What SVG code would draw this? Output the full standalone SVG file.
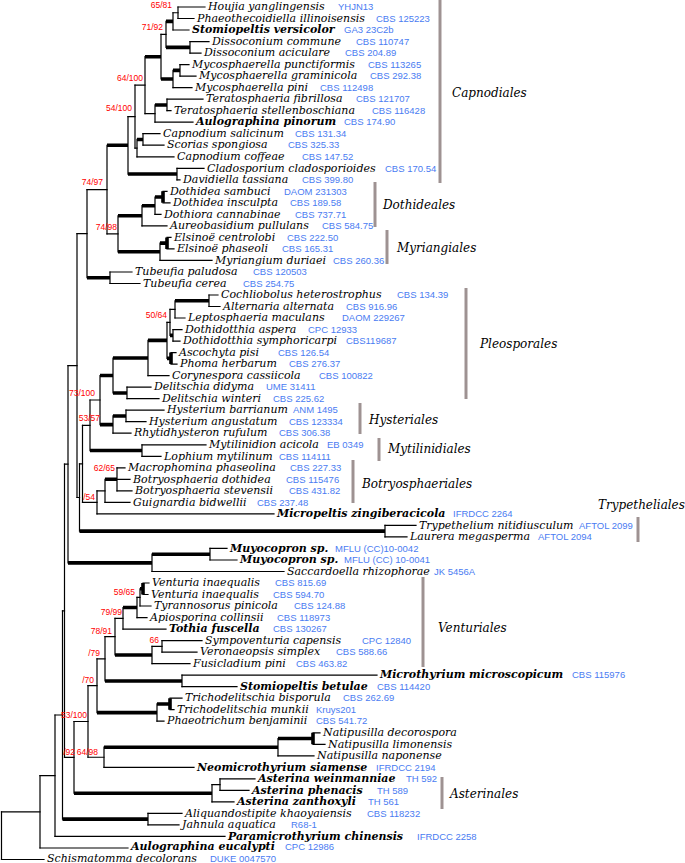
<svg xmlns="http://www.w3.org/2000/svg" width="685" height="863" viewBox="0 0 685 863">
<style>
.bg{fill:#fff}
.t{fill:none;stroke:#000;stroke-width:1.2;stroke-linecap:square}
.k{fill:none;stroke:#000;stroke-width:3.6;stroke-linecap:butt}
.sp{font-family:"DejaVu Serif",serif;font-style:italic;font-size:11px;fill:#000}
.b{font-weight:bold}
.c{font-family:"Liberation Sans",Arial,sans-serif;font-size:9.5px;fill:#4a7cf2}
.bs{font-family:"Liberation Sans",Arial,sans-serif;font-size:8.5px;fill:#f00;text-anchor:end}
.ord{font-family:"DejaVu Serif",serif;font-style:italic;font-size:12px;fill:#000}
.bar{stroke:#9e9292;stroke-width:3;fill:none}
</style>
<rect class="bg" width="685" height="863"/>
<g id="connectors">
<path class="t" d="M178 7V18.5M173 12.75V30M190 41.6V53.1M166 21.4V47.35M180 64.6V76.1M173 70.35V87.6M161 34.4V79M167 99.2V110.7M155 104.95V122.2M145 56.7V113.6M143 133.7V145.2M137 139.45V156.8M135 85.15V148.1M177 168.3V179.8M128 116.6V174.05M155 197.05V214.4M142 205.7V225.9M160 243.15V260.4M118 215.8V251.8M107 145.3V233.8M110 272V283.5M87 189.55V277.75M209 295V306.5M175 300.75V318M173 329.6V341.1M170 309.4V335.35M167 322.4V358.35M148 340.4V375.6M127 387.2V398.7M113 358V392.95M126 410.2V421.7M113 415.95V433.2M100 375.5V424.6M142 444.8V456.3M90 400V450.55M117 467.8V490.8M105 479.3V502.4M97 490.85V513.9M82.5 425.3V502.4M385 525.4V536.9M79.5 463.85V531.15M77 233.65V497.5M210 548.4V560M152 554.2V571.5M68 365.6V562.85M140 588.75V606M137 597.4V617.6M123 607.5V629.1M162 640.6V652.1M152 646.35V663.6M115 618.3V655M182 675.2V686.7M105 636.65V680.95M157 703.95V721.2M97 658.8V712.6M278 738.55V755.8M104 747.2V767.3M88 685.7V757.25M220 778.8V790.4M212 784.6V801.9M74 721.5V793.25M64.5 464.2V757.4M148 813.4V824.9M62.5 610.8V819.15M55 715V836.4M40 775.7V848M1.5 811.85V859.5"/>
<path class="t" d="M178 7H205M178 18.5H194M173 30H189M190 41.6H209M190 53.1H201M180 64.6H189M180 76.1H196M173 87.6H192M167 99.2H203M167 110.7H171M155 122.2H193M143 133.7H160M143 145.2H164M137 156.8H174M177 168.3H204M177 179.8H180M163 191.3H167M163 202.8H170M155 214.4H161M142 225.9H167M167 237.4H171M167 248.9H174M160 260.4H212M110 272H132M110 283.5H140M209 295H218M209 306.5H220M175 318H185M173 329.6H182M173 341.1H180M171 352.6H176M171 364.1H177M148 375.6H169M127 387.2H151M127 398.7H159M126 410.2H164M126 421.7H146M113 433.2H131M142 444.8H206M142 456.3H161M117 467.8H125M117 479.3H130M117 490.8H132M105 502.4H130M97 513.9H274M385 525.4H416M385 536.9H407M210 548.4H227M210 560H237M152 571.5H284M143 583H149M143 594.5H148M140 606H151M137 617.6H147M123 629.1H166M162 640.6H202M162 652.1H197M152 663.6H190M182 675.2H377M182 686.7H237M170 698.2H182M170 709.7H174M157 721.2H164M313 732.8H320M313 744.3H325M278 755.8H314M104 767.3H194M220 778.8H255M220 790.4H249M212 801.9H234M148 813.4H182M148 824.9H179M55 836.4H225M40 848H128M1.5 859.5H44"/>
<path class="t" d="M173 12.75H178M161 34.4H166M145 113.6H155M135 85.15H145M135 148.1H137M128 116.6H135M107 233.8H118M87 189.55H107M77 233.65H87M170 309.4H175M167 322.4H170M90 400H100M82.5 425.3H90M97 490.85H105M82.5 502.4H97M79.5 463.85H82.5M77 497.5H79.5M68 365.6H77M64.5 464.2H68M137 597.4H140M115 618.3H123M152 646.35H162M105 636.65H115M97 658.8H105M88 685.7H97M88 757.25H104M74 721.5H88M212 784.6H220M64.5 757.4H74M62.5 610.8H64.5M55 715H62.5M40 775.7H55M1.5 811.85H40"/>
<path class="k" d="M166 21.4H173M166 47.35H190M173 70.35H180M161 79H173M145 56.7H161M155 104.95H167M137 139.45H143M128 174.05H177M107 145.3H128M155 197.05H163M142 205.7H155M118 215.8H142M160 243.15H167M118 251.8H160M87 277.75H110M175 300.75H209M170 335.35H173M167 358.35H171M148 340.4H167M113 358H148M113 392.95H127M100 375.5H113M113 415.95H126M100 424.6H113M90 450.55H142M105 479.3H117M79.5 531.15H385M152 554.2H210M68 562.85H152M140 588.75H143M123 607.5H137M115 655H152M105 680.95H182M157 703.95H170M97 712.6H157M278 738.55H313M104 747.2H278M74 793.25H212M62.5 819.15H148"/>
<path class="k" d="M163 191.3V202.8M167 237.4V248.9M171 352.6V364.1M143 583V594.5M170 698.2V709.7M313 732.8V744.3"/>
</g>
<g id="support">
<text class="bs" x="172" y="8">65/81</text>
<text class="bs" x="163" y="30">71/92</text>
<text class="bs" x="143" y="81">64/100</text>
<text class="bs" x="132" y="111">54/100</text>
<text class="bs" x="103" y="185">74/97</text>
<text class="bs" x="117" y="230">74/98</text>
<text class="bs" x="167" y="318">50/64</text>
<text class="bs" x="95" y="396">73/100</text>
<text class="bs" x="100" y="421">53/57</text>
<text class="bs" x="115" y="471">62/65</text>
<text class="bs" x="95" y="500">/54</text>
<text class="bs" x="135" y="595">59/65</text>
<text class="bs" x="122" y="615">79/99</text>
<text class="bs" x="112" y="634">78/91</text>
<text class="bs" x="159" y="643">66</text>
<text class="bs" x="100" y="656">/79</text>
<text class="bs" x="94" y="683">/70</text>
<text class="bs" x="87" y="718">53/100</text>
<text class="bs" x="75" y="755">/92</text>
<text class="bs" x="98" y="755">64/98</text>
</g>
<g id="t00"><text class="sp" x="208" y="10.2">Houjia yanglingensis</text><text class="c" x="338" y="10.2">YHJN13</text></g>
<g id="t01"><text class="sp" x="197" y="21.7">Phaeothecoidiella illinoisensis</text><text class="c" x="376" y="21.7">CBS 125223</text></g>
<g id="t02"><text class="sp b" x="192" y="33.2">Stomiopeltis versicolor</text><text class="c" x="344" y="33.2">GA3 23C2b</text></g>
<g id="t03"><text class="sp" x="212" y="44.8">Dissoconium commune</text><text class="c" x="356" y="44.8">CBS 110747</text></g>
<g id="t04"><text class="sp" x="204" y="56.3">Dissoconium aciculare</text><text class="c" x="345" y="56.3">CBS 204.89</text></g>
<g id="t05"><text class="sp" x="192" y="67.8">Mycosphaerella punctiformis</text><text class="c" x="368" y="67.8">CBS 113265</text></g>
<g id="t06"><text class="sp" x="199" y="79.3">Mycosphaerella graminicola</text><text class="c" x="370" y="79.3">CBS 292.38</text></g>
<g id="t07"><text class="sp" x="195" y="90.8">Mycosphaerella pini</text><text class="c" x="320" y="90.8">CBS 112498</text></g>
<g id="t08"><text class="sp" x="206" y="102.4">Teratosphaeria fibrillosa</text><text class="c" x="356" y="102.4">CBS 121707</text></g>
<g id="t09"><text class="sp" x="174" y="113.9">Teratosphaeria stellenboschiana</text><text class="c" x="372" y="113.9">CBS 116428</text></g>
<g id="t10"><text class="sp b" x="196" y="125.4">Aulographina pinorum</text><text class="c" x="344" y="125.4">CBS 174.90</text></g>
<g id="t11"><text class="sp" x="163" y="136.9">Capnodium salicinum</text><text class="c" x="295" y="136.9">CBS 131.34</text></g>
<g id="t12"><text class="sp" x="167" y="148.4">Scorias spongiosa</text><text class="c" x="288" y="148.4">CBS 325.33</text></g>
<g id="t13"><text class="sp" x="177" y="160">Capnodium coffeae</text><text class="c" x="302" y="160">CBS 147.52</text></g>
<g id="t14"><text class="sp" x="207" y="171.5">Cladosporium cladosporioides</text><text class="c" x="385" y="171.5">CBS 170.54</text></g>
<g id="t15"><text class="sp" x="183" y="183">Davidiella tassiana</text><text class="c" x="302" y="183">CBS 399.80</text></g>
<g id="t16"><text class="sp" x="170" y="194.5">Dothidea sambuci</text><text class="c" x="284" y="194.5">DAOM 231303</text></g>
<g id="t17"><text class="sp" x="173" y="206">Dothidea insculpta</text><text class="c" x="290" y="206">CBS 189.58</text></g>
<g id="t18"><text class="sp" x="164" y="217.6">Dothiora cannabinae</text><text class="c" x="295" y="217.6">CBS 737.71</text></g>
<g id="t19"><text class="sp" x="170" y="229.1">Aureobasidium pullulans</text><text class="c" x="322" y="229.1">CBS 584.75</text></g>
<g id="t20"><text class="sp" x="174" y="240.6">Elsinoë centrolobi</text><text class="c" x="287" y="240.6">CBS 222.50</text></g>
<g id="t21"><text class="sp" x="177" y="252.1">Elsinoë phaseoli</text><text class="c" x="282" y="252.1">CBS 165.31</text></g>
<g id="t22"><text class="sp" x="215" y="263.6">Myriangium duriaei</text><text class="c" x="333" y="263.6">CBS 260.36</text></g>
<g id="t23"><text class="sp" x="135" y="275.2">Tubeufia paludosa</text><text class="c" x="253" y="275.2">CBS 120503</text></g>
<g id="t24"><text class="sp" x="143" y="286.7">Tubeufia cerea</text><text class="c" x="243" y="286.7">CBS 254.75</text></g>
<g id="t25"><text class="sp" x="221" y="298.2">Cochliobolus heterostrophus</text><text class="c" x="397" y="298.2">CBS 134.39</text></g>
<g id="t26"><text class="sp" x="223" y="309.7">Alternaria alternata</text><text class="c" x="346" y="309.7">CBS 916.96</text></g>
<g id="t27"><text class="sp" x="188" y="321.2">Leptosphaeria maculans</text><text class="c" x="342" y="321.2">DAOM 229267</text></g>
<g id="t28"><text class="sp" x="185" y="332.8">Dothidotthia aspera</text><text class="c" x="308" y="332.8">CPC 12933</text></g>
<g id="t29"><text class="sp" x="183" y="344.3">Dothidotthia symphoricarpi</text><text class="c" x="346" y="344.3">CBS119687</text></g>
<g id="t30"><text class="sp" x="179" y="355.8">Ascochyta pisi</text><text class="c" x="278" y="355.8">CBS 126.54</text></g>
<g id="t31"><text class="sp" x="180" y="367.3">Phoma herbarum</text><text class="c" x="289" y="367.3">CBS 276.37</text></g>
<g id="t32"><text class="sp" x="172" y="378.8">Corynespora cassiicola</text><text class="c" x="319" y="378.8">CBS 100822</text></g>
<g id="t33"><text class="sp" x="154" y="390.4">Delitschia didyma</text><text class="c" x="266" y="390.4">UME 31411</text></g>
<g id="t34"><text class="sp" x="162" y="401.9">Delitschia winteri</text><text class="c" x="273" y="401.9">CBS 225.62</text></g>
<g id="t35"><text class="sp" x="167" y="413.4">Hysterium barrianum</text><text class="c" x="293" y="413.4">ANM 1495</text></g>
<g id="t36"><text class="sp" x="149" y="424.9">Hysterium angustatum</text><text class="c" x="289" y="424.9">CBS 123334</text></g>
<g id="t37"><text class="sp" x="134" y="436.4">Rhytidhysteron rufulum</text><text class="c" x="279" y="436.4">CBS 306.38</text></g>
<g id="t38"><text class="sp" x="209" y="448">Mytilinidion acicola</text><text class="c" x="327" y="448">EB 0349</text></g>
<g id="t39"><text class="sp" x="164" y="459.5">Lophium mytilinum</text><text class="c" x="279" y="459.5">CBS 114111</text></g>
<g id="t40"><text class="sp" x="128" y="471">Macrophomina phaseolina</text><text class="c" x="290" y="471">CBS 227.33</text></g>
<g id="t41"><text class="sp" x="133" y="482.5">Botryosphaeria dothidea</text><text class="c" x="286" y="482.5">CBS 115476</text></g>
<g id="t42"><text class="sp" x="135" y="494">Botryosphaeria stevensii</text><text class="c" x="289" y="494">CBS 431.82</text></g>
<g id="t43"><text class="sp" x="133" y="505.6">Guignardia bidwellii</text><text class="c" x="257" y="505.6">CBS 237.48</text></g>
<g id="t44"><text class="sp b" x="277" y="517.1">Micropeltis zingiberacicola</text><text class="c" x="453" y="517.1">IFRDCC 2264</text></g>
<g id="t45"><text class="sp" x="419" y="528.6">Trypethelium nitidiusculum</text><text class="c" x="579" y="528.6">AFTOL 2099</text></g>
<g id="t46"><text class="sp" x="410" y="540.1">Laurera megasperma</text><text class="c" x="538" y="540.1">AFTOL 2094</text></g>
<g id="t47"><text class="sp b" x="230" y="551.6">Muyocopron sp.</text><text class="c" x="335" y="551.6">MFLU (CC)10-0042</text></g>
<g id="t48"><text class="sp b" x="240" y="563.2">Muyocopron sp.</text><text class="c" x="344" y="563.2">MFLU (CC) 10-0041</text></g>
<g id="t49"><text class="sp" x="287" y="574.7">Saccardoella rhizophorae</text><text class="c" x="434" y="574.7">JK 5456A</text></g>
<g id="t50"><text class="sp" x="152" y="586.2">Venturia inaequalis</text><text class="c" x="275" y="586.2">CBS 815.69</text></g>
<g id="t51"><text class="sp" x="151" y="597.7">Venturia inaequalis</text><text class="c" x="273" y="597.7">CBS 594.70</text></g>
<g id="t52"><text class="sp" x="154" y="609.2">Tyrannosorus pinicola</text><text class="c" x="294" y="609.2">CBS 124.88</text></g>
<g id="t53"><text class="sp" x="150" y="620.8">Apiosporina collinsii</text><text class="c" x="277" y="620.8">CBS 118973</text></g>
<g id="t54"><text class="sp b" x="169" y="632.3">Tothia fuscella</text><text class="c" x="273" y="632.3">CBS 130267</text></g>
<g id="t55"><text class="sp" x="205" y="643.8">Sympoventuria capensis</text><text class="c" x="362" y="643.8">CPC 12840</text></g>
<g id="t56"><text class="sp" x="200" y="655.3">Veronaeopsis simplex</text><text class="c" x="336" y="655.3">CBS 588.66</text></g>
<g id="t57"><text class="sp" x="193" y="666.8">Fusicladium pini</text><text class="c" x="296" y="666.8">CBS 463.82</text></g>
<g id="t58"><text class="sp b" x="380" y="678.4">Microthyrium microscopicum</text><text class="c" x="572" y="678.4">CBS 115976</text></g>
<g id="t59"><text class="sp b" x="240" y="689.9">Stomiopeltis betulae</text><text class="c" x="377" y="689.9">CBS 114420</text></g>
<g id="t60"><text class="sp" x="185" y="701.4">Trichodelitschia bisporula</text><text class="c" x="343" y="701.4">CBS 262.69</text></g>
<g id="t61"><text class="sp" x="177" y="712.9">Trichodelitschia munkii</text><text class="c" x="316" y="712.9">Kruys201</text></g>
<g id="t62"><text class="sp" x="167" y="724.4">Phaeotrichum benjaminii</text><text class="c" x="316" y="724.4">CBS 541.72</text></g>
<g id="t63"><text class="sp" x="323" y="736">Natipusilla decorospora</text></g>
<g id="t64"><text class="sp" x="328" y="747.5">Natipusilla limonensis</text></g>
<g id="t65"><text class="sp" x="317" y="759">Natipusilla naponense</text></g>
<g id="t66"><text class="sp b" x="197" y="770.5">Neomicrothyrium siamense</text><text class="c" x="376" y="770.5">IFRDCC 2194</text></g>
<g id="t67"><text class="sp b" x="258" y="782">Asterina weinmanniae</text><text class="c" x="406" y="782">TH 592</text></g>
<g id="t68"><text class="sp b" x="252" y="793.6">Asterina phenacis</text><text class="c" x="377" y="793.6">TH 589</text></g>
<g id="t69"><text class="sp b" x="237" y="805.1">Asterina zanthoxyli</text><text class="c" x="368" y="805.1">TH 561</text></g>
<g id="t70"><text class="sp" x="185" y="816.6">Aliquandostipite khaoyaiensis</text><text class="c" x="367" y="816.6">CBS 118232</text></g>
<g id="t71"><text class="sp" x="182" y="828.1">Jahnula aquatica</text><text class="c" x="291" y="828.1">R68-1</text></g>
<g id="t72"><text class="sp b" x="228" y="839.6">Paramicrothyrium chinensis</text><text class="c" x="417" y="839.6">IFRDCC 2258</text></g>
<g id="t73"><text class="sp b" x="131" y="850.4">Aulographina eucalypti</text><text class="c" x="285" y="850.4">CPC 12986</text></g>
<g id="t74"><text class="sp" x="47" y="861.6">Schismatomma decolorans</text><text class="c" x="210" y="861.6">DUKE 0047570</text></g>
<g id="o-capnodiales"><path class="bar" d="M440 0V183"/><text class="ord" x="452" y="97">Capnodiales</text></g>
<g id="o-dothideales"><path class="bar" d="M375 182V227"/><text class="ord" x="383" y="209">Dothideales</text></g>
<g id="o-myriangiales"><path class="bar" d="M387 230V264"/><text class="ord" x="397" y="252">Myriangiales</text></g>
<g id="o-pleosporales"><path class="bar" d="M466 288V399"/><text class="ord" x="480" y="348">Pleosporales</text></g>
<g id="o-hysteriales"><path class="bar" d="M360 403V434"/><text class="ord" x="369" y="424">Hysteriales</text></g>
<g id="o-mytilinidiales"><path class="bar" d="M379 438V461"/><text class="ord" x="388" y="453">Mytilinidiales</text></g>
<g id="o-botryosphaeriales"><path class="bar" d="M353 460V503"/><text class="ord" x="362" y="488">Botryosphaeriales</text></g>
<g id="o-trypetheliales"><path class="bar" d="M638 517V542"/><text class="ord" x="598" y="509">Trypetheliales</text></g>
<g id="o-venturiales"><path class="bar" d="M423 577V667"/><text class="ord" x="438" y="632">Venturiales</text></g>
<g id="o-asterinales"><path class="bar" d="M442 777V809"/><text class="ord" x="450" y="798">Asterinales</text></g>
</svg>
